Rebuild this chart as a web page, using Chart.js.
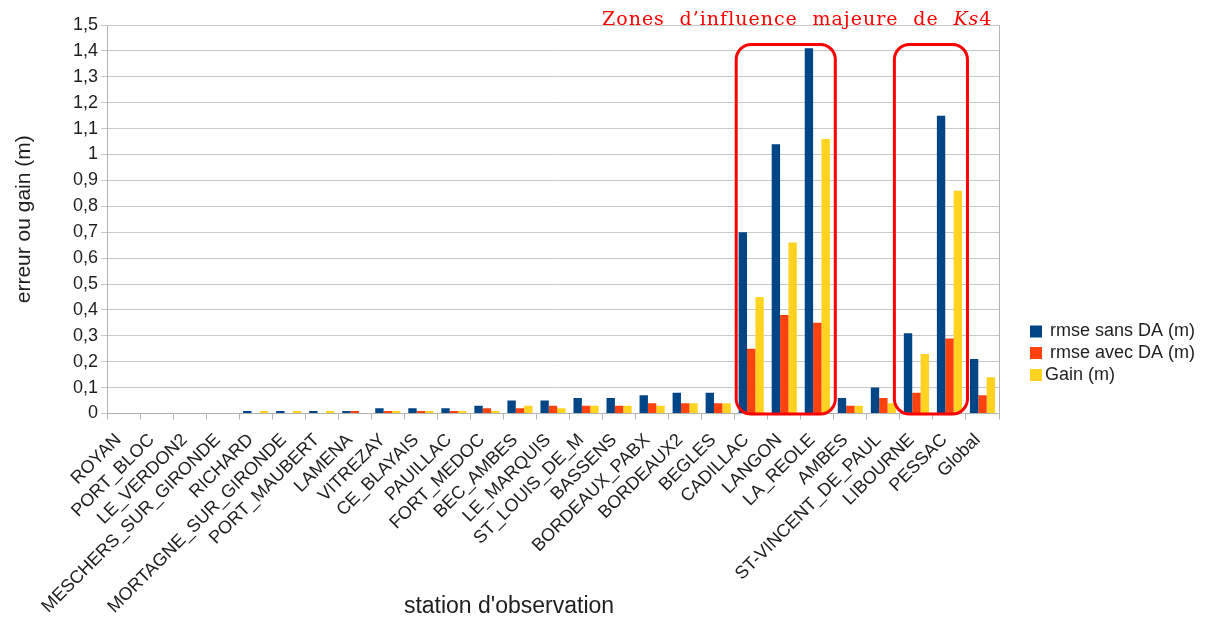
<!DOCTYPE html>
<html>
<head>
<meta charset="utf-8">
<script src="https://cdn.jsdelivr.net/npm/chart.js@4.4.1/dist/chart.umd.min.js"></script>
<style>
html,body{margin:0;padding:0;background:#fff;}
canvas{display:block;}
</style>
</head>
<body>
<canvas id="c" width="1220" height="619"></canvas>
<script>
const categories = ["ROYAN","PORT_BLOC","LE_VERDON2","MESCHERS_SUR_GIRONDE","RICHARD","MORTAGNE_SUR_GIRONDE","PORT_MAUBERT","LAMENA","VITREZAY","CE_BLAYAIS","PAUILLAC","FORT_MEDOC","BEC_AMBES","LE_MARQUIS","ST_LOUIS_DE_M","BASSENS","BORDEAUX_PABX","BORDEAUX2","BEGLES","CADILLAC","LANGON","LA_REOLE","AMBES","ST-VINCENT_DE_PAUL","LIBOURNE","PESSAC","Global"];
const rmseSansDA = [0,0,0,0,0.01,0.01,0.01,0.01,0.02,0.02,0.02,0.03,0.05,0.05,0.06,0.06,0.07,0.08,0.08,0.70,1.04,1.41,0.06,0.10,0.31,1.15,0.21];
const rmseAvecDA = [0,0,0,0,0,0,0,0.01,0.01,0.01,0.01,0.02,0.02,0.03,0.03,0.03,0.04,0.04,0.04,0.25,0.38,0.35,0.03,0.06,0.08,0.29,0.07];
const gain       = [0,0,0,0,0.01,0.01,0.01,0,0.01,0.01,0.01,0.01,0.03,0.02,0.03,0.03,0.03,0.04,0.04,0.45,0.66,1.06,0.03,0.04,0.23,0.86,0.14];
const seriesLabels = [" rmse sans DA (m)", " rmse avec DA (m)", "Gain (m)"];
const seriesColors = ["#004586", "#ff420e", "#ffd320"];
const yTitle = "erreur ou gain (m)";
const xTitle = "station d'observation";
const annotationText = ["Zones d\u2019influence majeure de ", "Ks", "4"];
const highlightZones = [["CADILLAC","LA_REOLE"],["LIBOURNE","PESSAC"]];

const FONT = "'Liberation Sans', Arial, sans-serif";
const TXT = "#1e1e1e";

const overlay = {
  id: 'overlay',
  afterDraw(chart) {
    const ctx = chart.ctx;
    const xs = chart.scales.x, ys = chart.scales.y;
    const area = chart.chartArea;
    const half = (xs.getPixelForValue(1) - xs.getPixelForValue(0)) / 2;
    ctx.save();
    // right border of plot
    ctx.strokeStyle = '#b3b3b3';
    ctx.lineWidth = 1;
    ctx.beginPath();
    ctx.moveTo(Math.round(area.right) + 0.5, area.top);
    ctx.lineTo(Math.round(area.right) + 0.5, area.bottom);
    ctx.stroke();

    // highlight boxes
    ctx.strokeStyle = '#ff0000';
    ctx.lineWidth = 3;
    const padL = [1.5, -5.5], padR = [1.5, 1.5];
    highlightZones.forEach((z, k) => {
      const i0 = categories.indexOf(z[0]), i1 = categories.indexOf(z[1]);
      const l = xs.getPixelForValue(i0) - half + padL[k];
      const r = xs.getPixelForValue(i1) + half + padR[k];
      const t = ys.getPixelForValue(1.425);
      const b = area.bottom + 0.5;
      ctx.beginPath();
      ctx.roundRect(l, t, r - l, b - t, 15);
      ctx.stroke();
    });

    // x title
    ctx.fillStyle = TXT;
    ctx.font = "23px " + FONT;
    ctx.textAlign = 'center';
    ctx.textBaseline = 'middle';
    ctx.fillText(xTitle, 509, 607);

    // legend
    ctx.font = "18px " + FONT;
    ctx.textAlign = 'left';
    const ly = [331.5, 353, 375];
    seriesLabels.forEach((lab, i) => {
      ctx.fillStyle = seriesColors[i];
      ctx.fillRect(1030, ly[i] - 6, 12, 12);
      ctx.fillStyle = TXT;
      ctx.fillText(lab, 1045, ly[i]);
    });

    // annotation (red, serif)
    const targetL = 602, targetR = 992;
    ctx.fillStyle = '#ff0000';
    ctx.textBaseline = 'alphabetic';
    const fonts = ["19px 'DejaVu Serif', serif", "italic 19px 'DejaVu Serif', serif", "19px 'DejaVu Serif', serif"];
    const ls = 1.0;
    let natural = 0, nChars = 0, nSpaces = 0;
    annotationText.forEach((s, i) => {
      ctx.font = fonts[i];
      natural += ctx.measureText(s).width;
      nChars += s.length;
      nSpaces += (s.match(/ /g) || []).length;
    });
    const extraSpace = Math.max(0, (targetR - targetL - natural - ls * nChars) / nSpaces);
    let x = targetL;
    annotationText.forEach((s, i) => {
      ctx.font = fonts[i];
      for (const ch of s) {
        ctx.fillText(ch, x, 25);
        x += ctx.measureText(ch).width + ls + (ch === ' ' ? extraSpace : 0);
      }
    });
    ctx.restore();
  }
};

new Chart(document.getElementById('c'), {
  type: 'bar',
  data: {
    labels: categories,
    datasets: [
      { label: seriesLabels[0], data: rmseSansDA, backgroundColor: seriesColors[0] },
      { label: seriesLabels[1], data: rmseAvecDA, backgroundColor: seriesColors[1] },
      { label: seriesLabels[2], data: gain, backgroundColor: seriesColors[2] }
    ]
  },
  options: {
    responsive: false,
    animation: false,
    layout: { padding: { top: 25, right: 221, left: 0, bottom: 0 } },
    datasets: { bar: { categoryPercentage: 0.76, barPercentage: 1.0 } },
    plugins: { legend: { display: false }, tooltip: { enabled: false } },
    scales: {
      x: {
        offset: true,
        grid: { offset: true, drawOnChartArea: false, drawTicks: true, tickLength: 6, color: '#b3b3b3' },
        border: { color: '#b3b3b3' },
        ticks: { autoSkip: false, maxRotation: 45, minRotation: 45, padding: 10, labelOffset: -5, color: TXT, font: { family: FONT, size: 18 } },
        afterFit(s) { s.height = 205.5; }
      },
      y: {
        min: 0, max: 1.5,
        grid: { color: '#c8c8c8', tickLength: 6 },
        border: { color: '#b3b3b3' },
        ticks: {
          stepSize: 0.1, padding: 3, color: TXT, font: { family: FONT, size: 18 },
          callback: v => String(Math.round(v * 10) / 10).replace('.', ',')
        },
        title: { display: true, text: yTitle, color: TXT, font: { family: FONT, size: 21 }, padding: { top: 12, bottom: 0 } },
        afterFit(s) { s.width = 107; }
      }
    }
  },
  plugins: [overlay]
});
</script>
</body>
</html>
